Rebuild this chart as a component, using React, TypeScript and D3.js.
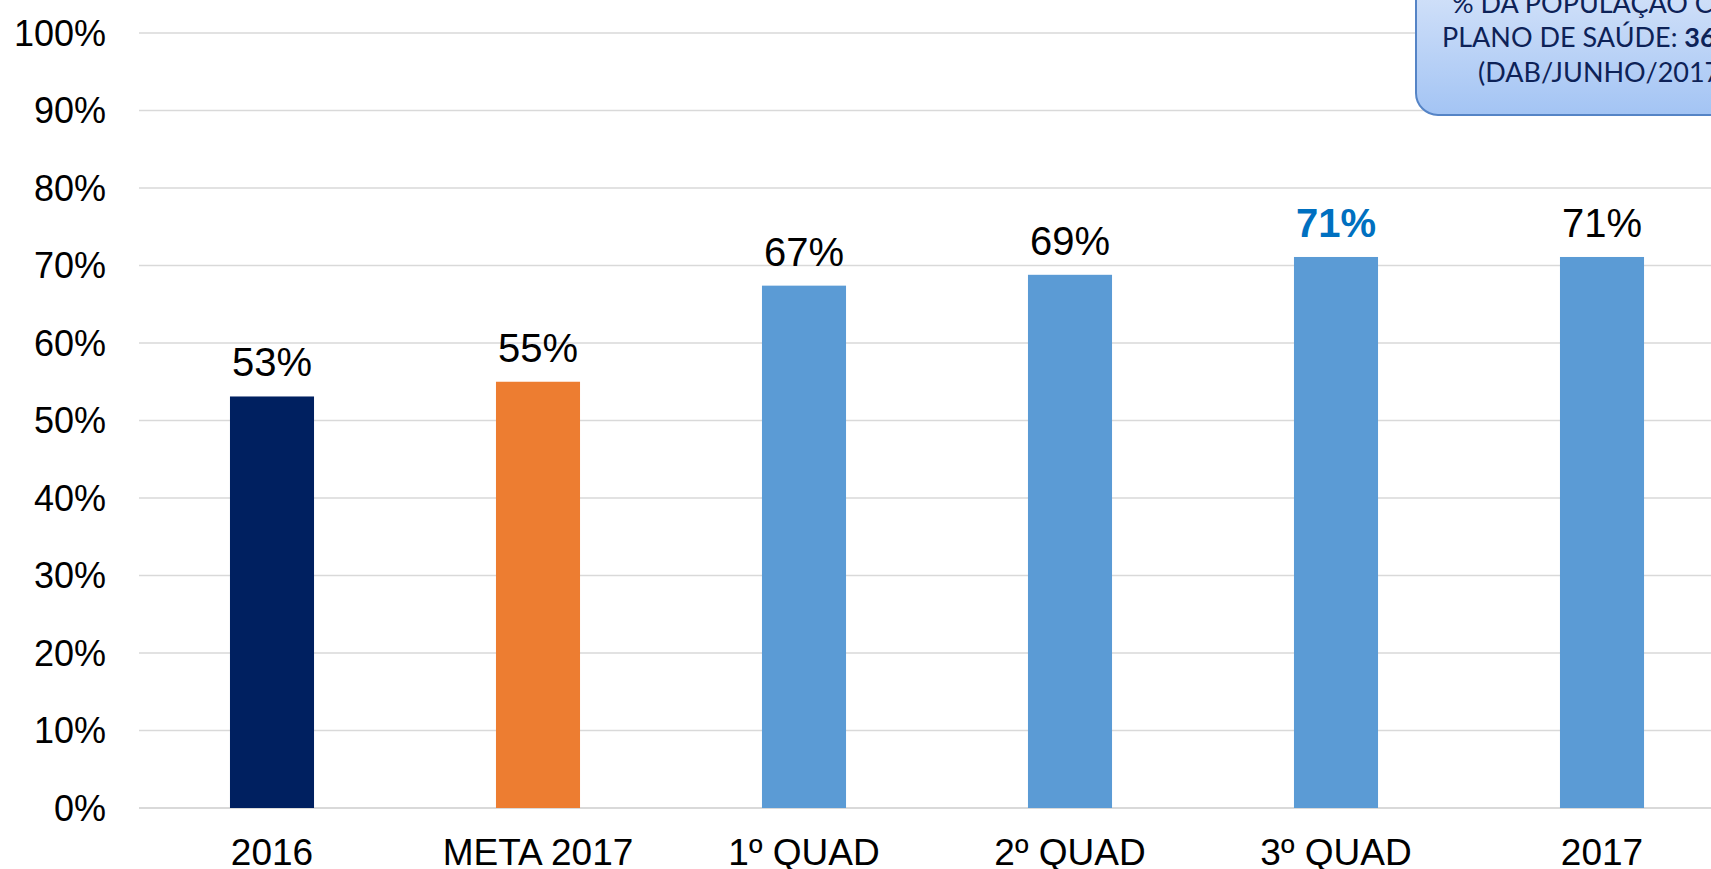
import {useEffect, useRef} from "react";
import * as d3 from "d3";

// chart data
const categories = ["2016", "META 2017", "1º QUAD", "2º QUAD", "3º QUAD", "2017"];
const values = [53.1, 55.0, 67.4, 68.8, 71.1, 71.1];
const labels = ["53%", "55%", "67%", "69%", "71%", "71%"];
const barColors = ["#002060", "#ED7D31", "#5B9BD5", "#5B9BD5", "#5B9BD5", "#5B9BD5"];
const yTicks = [0, 10, 20, 30, 40, 50, 60, 70, 80, 90, 100];
const noteLines = ["% DA POPULAÇÃO COM", "PLANO DE SAÚDE: ", "(DAB/JUNHO/2017)"];
const noteBold = "36%";

const W = 1711, H = 869;

const App = () => {
    const ref = useRef(null);

    useEffect(() => {
        const svg = d3.select(ref.current);
        svg.selectAll("*").remove();

        const left = 139, y0 = 808, y1 = 33;

        const x = d3.scaleBand()
            .domain(categories)
            .range([left, left + 266 * categories.length])
            .paddingInner(0.684)
            .paddingOuter(0.342);

        const y = d3.scaleLinear().domain([0, 100]).range([y0, y1]);

        // gridlines
        svg.append("g").selectAll("line")
            .data(yTicks)
            .enter().append("line")
            .attr("x1", left)
            .attr("x2", W)
            .attr("y1", d => y(d))
            .attr("y2", d => y(d))
            .attr("stroke", "#d9d9d9")
            .attr("stroke-width", d => d === 0 ? 2 : 1.4);

        // y tick labels
        svg.append("g").selectAll("text")
            .data(yTicks)
            .enter().append("text")
            .attr("x", 106)
            .attr("y", d => y(d) + 12.5)
            .attr("text-anchor", "end")
            .attr("font-family", "Liberation Sans, Arial, sans-serif")
            .attr("font-size", 36)
            .attr("fill", "#000")
            .text(d => d + "%");

        // bars
        svg.append("g").selectAll("rect")
            .data(values)
            .enter().append("rect")
            .attr("x", (d, i) => x(categories[i]))
            .attr("y", d => y(d))
            .attr("width", x.bandwidth())
            .attr("height", d => y0 - y(d))
            .attr("fill", (d, i) => barColors[i]);

        // value labels
        svg.append("g").selectAll("text")
            .data(values)
            .enter().append("text")
            .attr("x", (d, i) => x(categories[i]) + x.bandwidth() / 2)
            .attr("y", d => y(d) - 20)
            .attr("text-anchor", "middle")
            .attr("font-family", "Liberation Sans, Arial, sans-serif")
            .attr("font-size", 40)
            .attr("font-weight", (d, i) => i === 4 ? "bold" : "normal")
            .attr("fill", (d, i) => i === 4 ? "#0070C0" : "#000")
            .text((d, i) => labels[i]);

        // category labels
        svg.append("g").selectAll("text")
            .data(categories)
            .enter().append("text")
            .attr("x", d => x(d) + x.bandwidth() / 2)
            .attr("y", 865)
            .attr("text-anchor", "middle")
            .attr("font-family", "Liberation Sans, Arial, sans-serif")
            .attr("font-size", 37)
            .attr("fill", "#000")
            .text(d => d);

        // note box in the corner
        const grad = svg.append("defs").append("linearGradient")
            .attr("id", "noteGrad")
            .attr("x1", 0).attr("y1", 0).attr("x2", 0).attr("y2", 1);
        grad.append("stop").attr("offset", "0%").attr("stop-color", "#dde8fa");
        grad.append("stop").attr("offset", "100%").attr("stop-color", "#a3c4f4");

        svg.append("rect")
            .attr("x", 1416)
            .attr("y", -40)
            .attr("width", 400)
            .attr("height", 155)
            .attr("rx", 22)
            .attr("fill", "url(#noteGrad)")
            .attr("stroke", "#5584c6")
            .attr("stroke-width", 2);

        const note = svg.append("g")
            .attr("font-family", "Lato, Open Sans, sans-serif")
            .attr("font-size", 27)
            .attr("fill", "#0d2257");

        note.append("text").attr("x", 1452).attr("y", 13).text(noteLines[0]);
        const l2 = note.append("text").attr("x", 1442).attr("y", 47);
        l2.append("tspan").text(noteLines[1]);
        l2.append("tspan").attr("font-weight", "bold").text(noteBold);
        note.append("text").attr("x", 1478).attr("y", 82).text(noteLines[2]);
    }, []);

    return (
        <svg
            ref={ref}
            width={W}
            height={H}
            style={{position: "absolute", left: 0, top: 0, background: "#fff"}}/>
    );
};

export default App;
